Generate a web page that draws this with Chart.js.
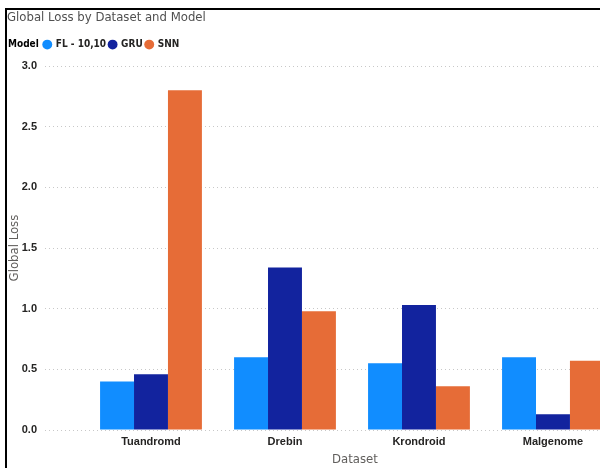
<!DOCTYPE html>
<html>
<head>
<meta charset="utf-8">
<title>Global Loss by Dataset and Model</title>
<script src="https://cdn.jsdelivr.net/npm/chart.js@4.4.1/dist/chart.umd.min.js"></script>
<style>
  html, body { margin: 0; padding: 0; background: #fff; overflow: hidden; width: 600px; height: 468px; }
  #frame { position: absolute; left: 5px; top: 8px; width: 700px; height: 480px;
           border-left: 2px solid #000; border-top: 2px solid #000; }
  /* the plot runs past the right edge of the window and is cut there */
  #wrap { position: absolute; left: 0; top: 0; width: 665px; height: 468px; }
</style>
</head>
<body>
<div id="frame"></div>
<div id="wrap"><canvas id="chart"></canvas></div>
<script>
// categories and series
const datasetNames = ['Tuandromd', 'Drebin', 'Krondroid', 'Malgenome'];
const modelNames = ['FL - 10,10', 'GRU', 'SNN'];
const flLoss  = [0.40, 0.60, 0.55, 0.60];
const gruLoss = [0.46, 1.34, 1.03, 0.13];
const snnLoss = [2.80, 0.98, 0.36, 0.57];
const modelColors = ['#118DFF', '#12239E', '#E66C37'];

// y axis ticks
const yMax = 3.0;
const yStep = 0.5;

const narrow = "'Liberation Sans Narrow', 'DejaVu Sans Condensed', sans-serif";
const plain = "'Liberation Sans', Arial, sans-serif";

function toPoints(values) {
  return values.map(function(v, i) { return { x: i, y: v }; });
}

// "Model" caption in front of the legend items, plus a gap under the legend
const legendCaption = {
  id: 'legendCaption',
  beforeInit: function(chart) {
    const fit = chart.legend.fit;
    chart.legend.fit = function() {
      fit.bind(chart.legend)();
      this.height += chart.options.plugins.legendCaption.extraHeight;
    };
  },
  afterLayout: function(chart, args, opts) {
    const lg = chart.legend;
    const ctx = chart.ctx;
    ctx.save();
    ctx.font = opts.font;
    lg._captionLeft = lg.left;
    lg.left += ctx.measureText(opts.text).width + opts.gap;
    ctx.restore();
  },
  afterDraw: function(chart, args, opts) {
    const lg = chart.legend;
    const ctx = chart.ctx;
    const labels = lg.options.labels;
    ctx.save();
    ctx.font = opts.font;
    ctx.fillStyle = opts.color;
    ctx.textBaseline = 'middle';
    ctx.textAlign = 'left';
    ctx.fillText(opts.text, lg._captionLeft + opts.offset, lg.top + labels.padding + labels.font.size / 2);
    ctx.restore();
  }
};

const series = [flLoss, gruLoss, snnLoss];

new Chart(document.getElementById('chart'), {
  type: 'bar',
  data: {
    datasets: series.map(function(values, k) {
      return {
        label: modelNames[k],
        data: toPoints(values),
        backgroundColor: modelColors[k],
        borderWidth: 0,
        barPercentage: 1.0,
        categoryPercentage: 0.76
      };
    })
  },
  plugins: [legendCaption],
  options: {
    responsive: true,
    maintainAspectRatio: false,
    animation: false,
    layout: { padding: { left: 7, right: 0, top: 0, bottom: 0 } },
    plugins: {
      title: {
        display: true,
        text: 'Global Loss by Dataset and Model',
        align: 'start',
        color: '#505050',
        font: { family: narrow, size: 13, weight: 'normal' },
        padding: { top: 10, bottom: 11 }
      },
      legend: {
        display: true,
        position: 'top',
        align: 'start',
        labels: {
          usePointStyle: true,
          pointStyle: 'circle',
          boxWidth: 7,
          boxHeight: 7,
          padding: 3,
          color: '#252423',
          font: { family: narrow, size: 10, weight: 'bold' }
        }
      },
      legendCaption: {
        text: 'Model',
        font: "bold 10px " + narrow,
        color: '#000',
        offset: 1,
        gap: 3,
        extraHeight: 6.5
      },
      tooltip: { enabled: false }
    },
    scales: {
      x: {
        type: 'linear',
        offset: false,
        min: -0.791,
        max: 3.836,
        grid: { display: false, drawTicks: false },
        border: { display: false },
        ticks: {
          stepSize: 1,
          includeBounds: false,
          autoSkip: false,
          maxRotation: 0,
          padding: 5,
          color: '#252423',
          font: { family: plain, size: 11, weight: 'bold' },
          callback: function(v) {
            return Number.isInteger(v) && datasetNames[v] !== undefined ? datasetNames[v] : '';
          }
        },
        title: {
          display: true,
          text: 'Dataset',
          color: '#605E5C',
          font: { family: narrow, size: 13 },
          padding: { top: 0, bottom: 1 }
        },
        afterFit: function(scale) { scale.height = 38; }
      },
      y: {
        min: 0,
        max: yMax,
        grid: { color: '#c8c8c8', lineWidth: 1, drawTicks: false },
        border: { display: false, dash: [1, 3] },
        ticks: {
          stepSize: yStep,
          padding: 8,
          color: '#252423',
          font: { family: plain, size: 11, weight: 'bold' },
          callback: function(v) { return v.toFixed(1); }
        },
        title: {
          display: true,
          text: 'Global Loss',
          color: '#605E5C',
          font: { family: narrow, size: 13 },
          padding: { top: 0, bottom: 0 }
        },
        afterFit: function(scale) { scale.width = 38; }
      }
    }
  }
});
</script>
</body>
</html>
